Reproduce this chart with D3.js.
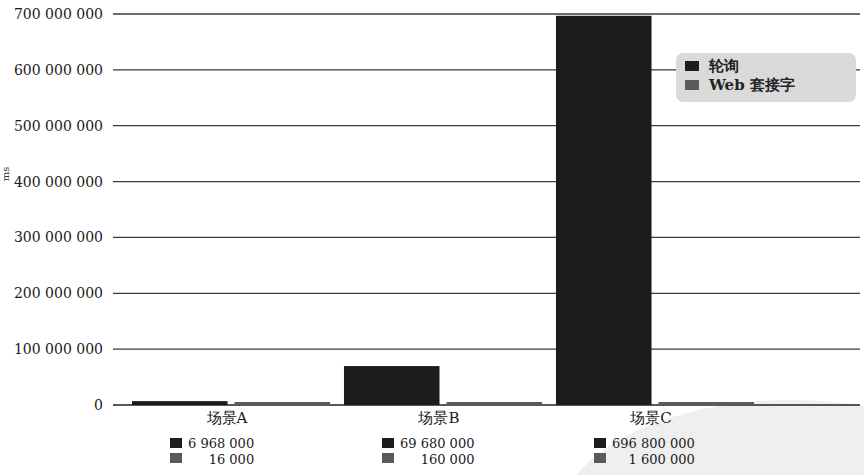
<!DOCTYPE html>
<html><head><meta charset="utf-8">
<script src="https://cdn.jsdelivr.net/npm/d3@7"></script>
<style>
html,body{margin:0;padding:0;background:#fff;}
svg{display:block;}
</style></head>
<body>
<svg id="chart" width="864" height="475"></svg>
<script>
const categories = ["场景A", "场景B", "场景C"];
const seriesNames = ["轮询", "Web 套接字"];
const pollingValues = [6968000, 69680000, 696800000];
const websocketValues = [16000, 160000, 1600000];
const pollingLabels = ["6 968 000", "69 680 000", "696 800 000"];
const websocketLabels = ["16 000", "160 000", "1 600 000"];
const yTicks = [0, 100000000, 200000000, 300000000, 400000000, 500000000, 600000000, 700000000];
const yTickLabels = ["0", "100 000 000", "200 000 000", "300 000 000", "400 000 000", "500 000 000", "600 000 000", "700 000 000"];
const colors = ["#1c1c1c", "#5a5a5a"];

const svg = d3.select("#chart");
const serif = "'DejaVu Serif', 'Liberation Serif', serif";

// faint watermark in bottom-right
svg.append("ellipse").attr("cx", 790).attr("cy", 520).attr("rx", 230).attr("ry", 120)
  .attr("fill", "#efefef");

const y = d3.scaleLinear().domain([0, 700000000]).range([405, 14]);
const x = d3.scaleBand().domain(categories).range([125, 761]);
const xs = d3.scaleBand().domain(seriesNames).range([0, x.bandwidth()]).paddingInner(0.068).paddingOuter(0.068);

// gridlines
svg.append("g").selectAll("line").data(yTicks).join("line")
  .attr("x1", 113).attr("x2", 860)
  .attr("y1", d => y(d)).attr("y2", d => y(d))
  .attr("stroke", d => d === 0 ? "#222" : "#3a3a3a")
  .attr("stroke-width", d => d === 0 ? 1.6 : 1.3);

// tick labels
svg.append("g").selectAll("text").data(yTicks).join("text")
  .attr("x", 103).attr("y", d => y(d) + 5)
  .attr("text-anchor", "end")
  .attr("font-family", serif).attr("font-size", 14).attr("fill", "#1a1a1a")
  .text((d, i) => yTickLabels[i]);

// y axis title (at the left edge)
svg.append("text").attr("transform", "translate(9,174) rotate(-90)")
  .attr("text-anchor", "middle").attr("font-family", serif).attr("font-size", 10)
  .attr("fill", "#333").text("ms");

// bars
const rows = categories.map((c, i) => ({c, vals: [pollingValues[i], websocketValues[i]]}));
const g = svg.append("g");
rows.forEach(r => {
  r.vals.forEach((v, j) => {
    const h = Math.max(y(0) - y(v), 3);
    g.append("rect")
      .attr("x", x(r.c) + xs(seriesNames[j]))
      .attr("y", y(0) - h)
      .attr("width", xs.bandwidth())
      .attr("height", h)
      .attr("fill", colors[j]);
  });
});

// category labels
svg.append("g").selectAll("text").data(categories).join("text")
  .attr("x", d => x(d) + x.bandwidth() / 2 - 4).attr("y", 423)
  .attr("text-anchor", "middle").attr("font-family", serif).attr("font-size", 15)
  .attr("fill", "#1a1a1a").text(d => d);

// data table under axis
categories.forEach((c, i) => {
  const sx = x(c) + 45;
  svg.append("rect").attr("x", sx).attr("y", 438).attr("width", 12).attr("height", 10).attr("fill", colors[0]);
  svg.append("rect").attr("x", sx).attr("y", 453).attr("width", 12).attr("height", 10).attr("fill", colors[1]);
  const t1 = svg.append("text").attr("x", sx + 18).attr("y", 448)
    .attr("font-family", serif).attr("font-size", 13).attr("fill", "#1a1a1a").text(pollingLabels[i]);
  const w = t1.node().getComputedTextLength();
  svg.append("text").attr("x", sx + 18 + w).attr("y", 464).attr("text-anchor", "end")
    .attr("font-family", serif).attr("font-size", 13).attr("fill", "#1a1a1a").text(websocketLabels[i]);
});

// legend box
const lg = svg.append("g");
lg.append("rect").attr("x", 676).attr("y", 53).attr("width", 180).attr("height", 49).attr("rx", 7)
  .attr("fill", "#dadada");
seriesNames.forEach((s, i) => {
  lg.append("rect").attr("x", 685).attr("y", 61 + i * 19).attr("width", 14).attr("height", 10).attr("fill", colors[i]);
  lg.append("text").attr("x", 709).attr("y", 71 + i * 19)
    .attr("font-family", serif).attr("font-size", 15).attr("font-weight", "bold")
    .attr("fill", "#222").text(s);
});
</script>
</body></html>
